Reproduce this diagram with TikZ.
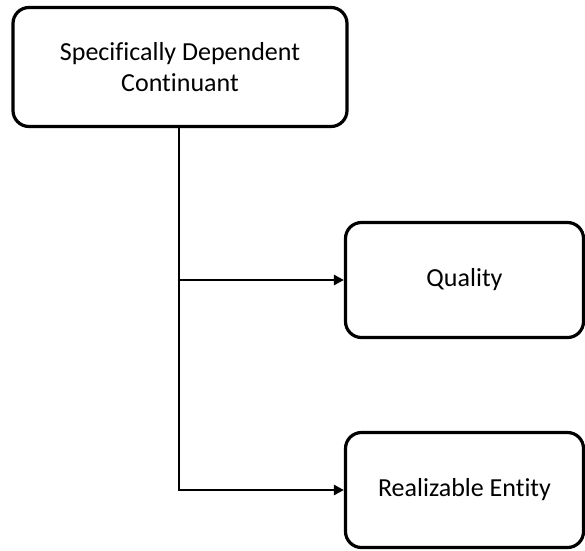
\documentclass[tikz,border=0pt]{standalone}
\usepackage{fontspec}
\setmainfont[Ligatures={NoCommon}]{Carlito}
\usetikzlibrary{arrows.meta}
\begin{document}
\begin{tikzpicture}[x=1pt,y=-1pt,
  box/.style={draw=black,line width=3.2pt,rounded corners=16pt,fill=white,
    align=center,font=\fontsize{26}{31}\selectfont},
  link/.style={line width=2.8pt,-{Triangle[length=10pt,width=10pt]}}]
  \useasboundingbox (0,0) rectangle (585,550);
  \node[box,minimum width=334pt,minimum height=119pt] (sdc) at (180,67)
    {Specifically Dependent\\Continuant};
  \node[box,minimum width=238pt,minimum height=115pt] (q) at (464.5,280)
    {Quality};
  \node[box,minimum width=238pt,minimum height=115pt] (re) at (464.5,490)
    {Realizable Entity};
  \coordinate (j) at (179,280);
  \draw[line width=2.8pt] (sdc.south -| j) -- (j);
  \draw[link] (j) -- (q.west);
  \draw[link] (sdc.south -| j) |- (re.west);
\end{tikzpicture}
\end{document}
